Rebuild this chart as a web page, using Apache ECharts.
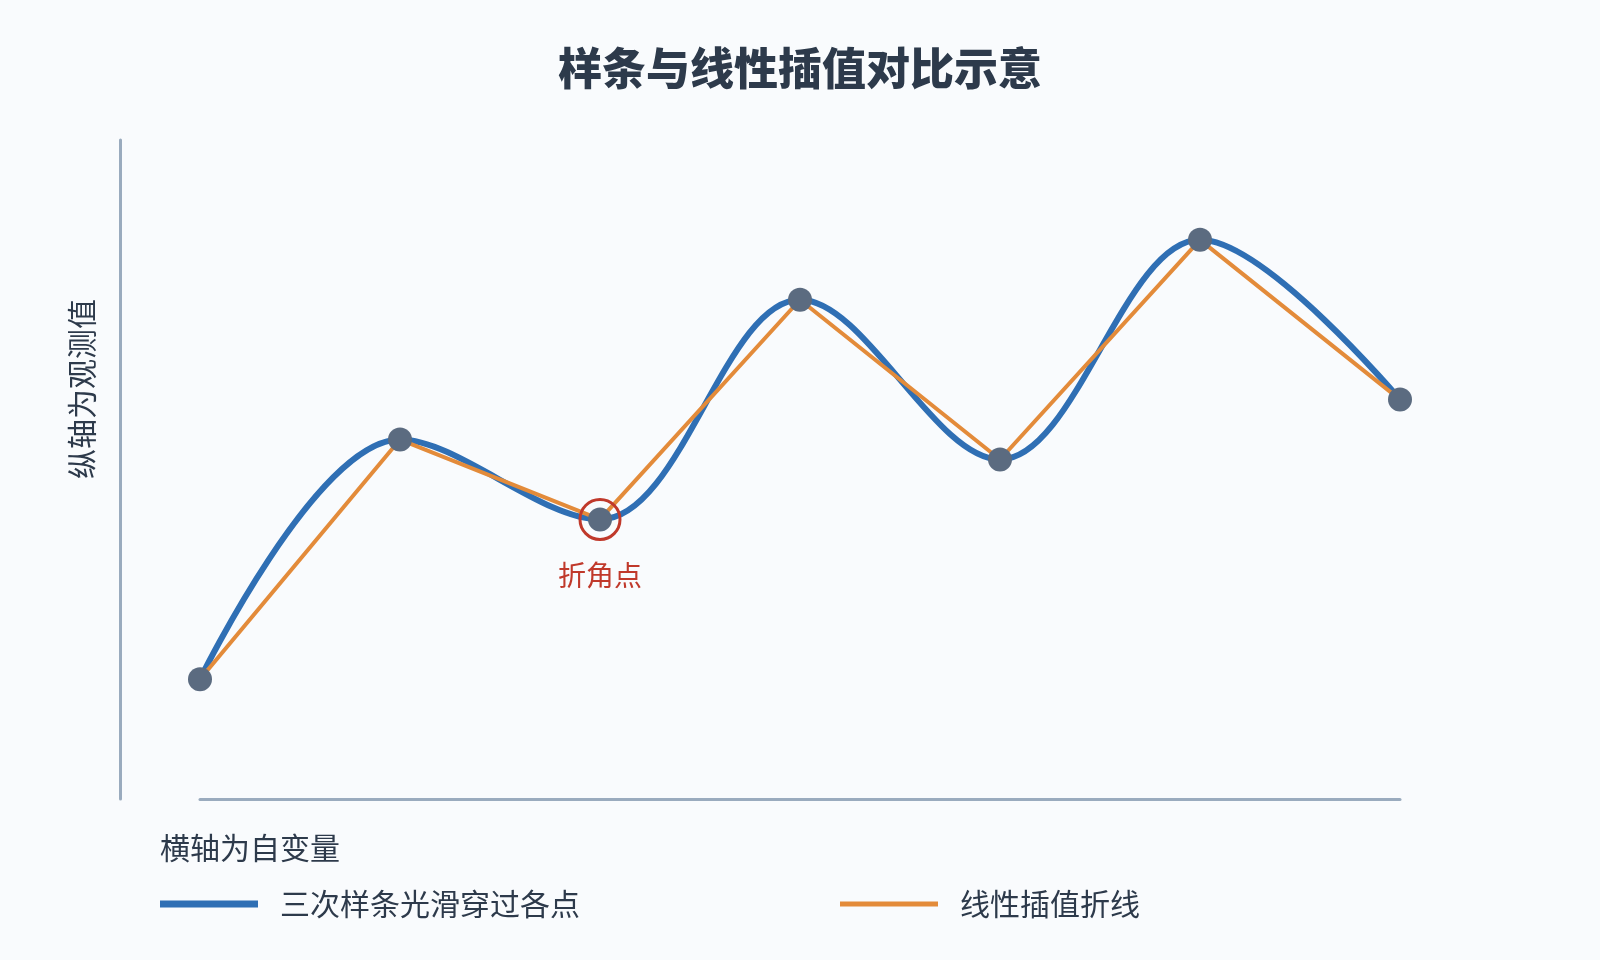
<!DOCTYPE html>
<html>
<head>
<meta charset="utf-8">
<script src="https://cdn.jsdelivr.net/npm/echarts@6/dist/echarts.min.js"></script>
<style>
  html, body { margin: 0; padding: 0; background: #f9fbfd; }
  #chart { width: 1600px; height: 960px; }
</style>
</head>
<body>
<div id="chart"></div>
<script>
// ---- data ----
const xValues = [0, 1, 2, 3, 4, 5, 6];
const yValues = [1.2, 3.6, 2.8, 5.0, 3.4, 5.6, 4.0];
const kinkIndex = 2;
const titleText = '样条与线性插值对比示意';
const yAxisName = '纵轴为观测值';
const xAxisName = '横轴为自变量';
const seriesNames = ['三次样条光滑穿过各点', '线性插值折线'];
const kinkLabel = '折角点';

const pairs = xValues.map((x, i) => [x, yValues[i]]);
const FONT = '"Noto Sans CJK SC", "Noto Sans", sans-serif';
const TEXT = '#2d3a4b';
const AXIS = '#9aabbe';

const chart = echarts.init(document.getElementById('chart'), null, { renderer: 'canvas' });
chart.setOption({
  backgroundColor: '#f9fbfd',
  animation: false,
  textStyle: { fontFamily: FONT },
  title: [
    {
      text: titleText, left: 'center', top: 41,
      textStyle: { fontSize: 44, fontWeight: 900, color: TEXT, fontFamily: FONT }
    },
    {
      text: xAxisName, left: 155, top: 828,
      textStyle: { fontSize: 30, fontWeight: 'normal', color: TEXT, fontFamily: FONT }
    }
  ],
  graphic: [
    {
      type: 'text', x: 82, y: 389, rotation: Math.PI / 2,
      style: { text: yAxisName, align: 'center', verticalAlign: 'middle', fill: TEXT, font: '30px ' + FONT }
    }
  ],
  legend: [
    {
      data: [seriesNames[0]], left: 155, top: 884, icon: 'rect', itemWidth: 98, itemHeight: 7,
      textStyle: { fontSize: 30, color: TEXT, fontFamily: FONT, padding: [0, 0, 0, 17] }
    },
    {
      data: [seriesNames[1]], left: 835, top: 884, icon: 'rect', itemWidth: 98, itemHeight: 5,
      textStyle: { fontSize: 30, color: TEXT, fontFamily: FONT, padding: [0, 0, 0, 17] }
    }
  ],
  grid: { left: 200, right: 200, top: 140, bottom: 161, containLabel: false },
  xAxis: {
    type: 'value', min: 0, max: 6,
    axisLine: { show: true, onZero: false, lineStyle: { color: AXIS, width: 3 } },
    axisTick: { show: false }, axisLabel: { show: false }, splitLine: { show: false }
  },
  yAxis: {
    type: 'value', min: 0, max: 6.6, offset: 80,
    axisLine: { show: true, onZero: false, lineStyle: { color: AXIS, width: 3 } },
    axisTick: { show: false }, axisLabel: { show: false }, splitLine: { show: false }
  },
  series: [
    {
      name: seriesNames[0], type: 'line', data: pairs, smooth: 0.35, showSymbol: false,
      lineStyle: { color: '#2f6fb4', width: 6 }, itemStyle: { color: '#2f6fb4' }, z: 2
    },
    {
      name: seriesNames[1], type: 'line', data: pairs, smooth: false, showSymbol: false,
      lineStyle: { color: '#e38b3a', width: 4 }, itemStyle: { color: '#e38b3a' }, z: 3
    },
    {
      name: 'points', type: 'scatter', data: pairs, symbolSize: 24,
      itemStyle: { color: '#5b6b80', opacity: 1 }, z: 4,
      markPoint: {
        symbol: 'circle', symbolSize: 40, z: 5,
        itemStyle: { color: 'rgba(0,0,0,0)', borderColor: '#c0392b', borderWidth: 3, opacity: 1 },
        label: {
          show: true, formatter: kinkLabel, position: 'inside', offset: [0, 56],
          fontSize: 28, color: '#c0392b', fontFamily: FONT
        },
        data: [{ coord: pairs[kinkIndex] }]
      }
    }
  ]
});
</script>
</body>
</html>
